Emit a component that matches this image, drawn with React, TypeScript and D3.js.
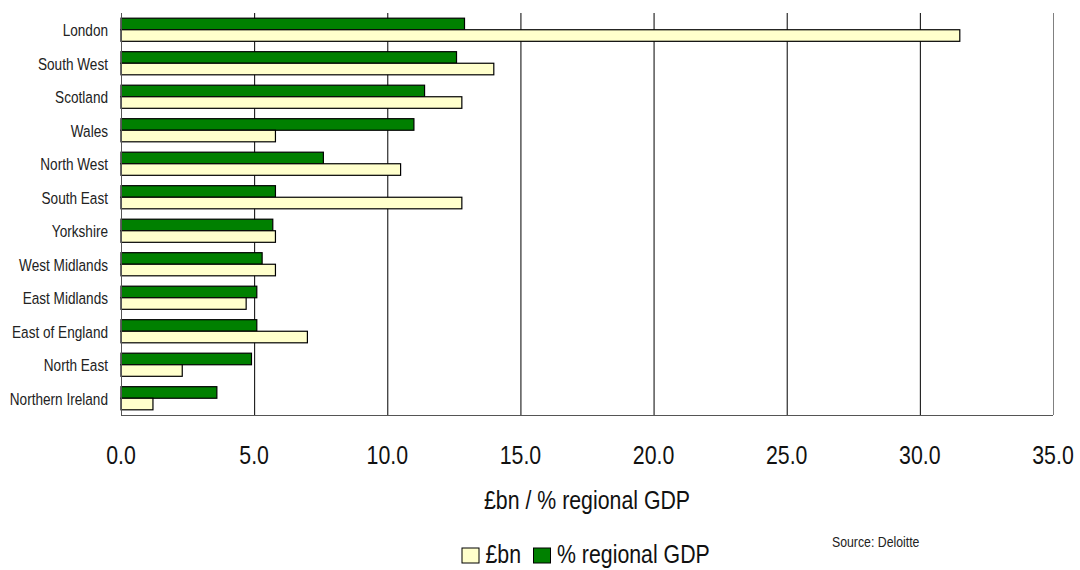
import React from "react";
import * as d3 from "d3";

const categories = [
  "London",
  "South West",
  "Scotland",
  "Wales",
  "North West",
  "South East",
  "Yorkshire",
  "West Midlands",
  "East Midlands",
  "East of England",
  "North East",
  "Northern Ireland",
];
const gdpPct = [12.9, 12.6, 11.4, 11.0, 7.6, 5.8, 5.7, 5.3, 5.1, 5.1, 4.9, 3.6];
const bn = [31.5, 14.0, 12.8, 5.8, 10.5, 12.8, 5.8, 5.8, 4.7, 7.0, 2.3, 1.2];
const ticks = [0, 5, 10, 15, 20, 25, 30, 35];
const seriesNames = ["£bn", "% regional GDP"];
const xTitle = "£bn / % regional GDP";
const source = "Source: Deloitte";

const FONT = "'Liberation Sans', Arial, sans-serif";
const GREEN = "#008000";
const CREAM = "#FFFFCC";
const SX = 0.82;

function NText({ x, y, size, anchor = "start", fill = "#111", children }: any) {
  return (
    <text transform={`translate(${x},${y}) scale(${SX},1)`} textAnchor={anchor} fontSize={size} fill={fill}>
      {children}
    </text>
  );
}

export default function App() {
  const W = 1080, H = 570;
  const left = 121, right = 1053, top = 13, bottom = 415;
  const x = d3.scaleLinear().domain([0, 35]).range([left, right]);
  const y = d3.scaleBand<string>().domain(categories).range([top, bottom]).paddingInner(0.31).paddingOuter(0.155);
  const sub = d3.scaleBand<string>().domain(["pct", "bn"]).range([0, y.bandwidth()]);

  return (
    <svg width={W} height={H} style={{ position: "absolute", left: 0, top: 0, background: "#fff" }} fontFamily={FONT}>
      {ticks.slice(1).map((t) => (
        <line key={t} x1={x(t) + 0.5} x2={x(t) + 0.5} y1={top} y2={bottom} stroke={t === 35 ? "#808080" : "#000"} strokeWidth={1} />
      ))}
      {categories.map((c, i) => (
        <g key={c}>
          <rect x={x(0)} y={(y(c) as number) + (sub("pct") as number)} width={x(gdpPct[i]) - x(0)} height={sub.bandwidth()} fill={GREEN} stroke="#000" strokeWidth={1.2} />
          <rect x={x(0)} y={(y(c) as number) + (sub("bn") as number)} width={x(bn[i]) - x(0)} height={sub.bandwidth()} fill={CREAM} stroke="#000" strokeWidth={1.2} />
          <NText x={108} y={(y(c) as number) + y.bandwidth() / 2 + 6.3} size={16.6} anchor="end" fill="#222">{c}</NText>
        </g>
      ))}
      <line x1={left + 0.5} x2={left + 0.5} y1={top} y2={bottom} stroke="#555" strokeWidth={1} />
      <line x1={left} x2={right} y1={bottom + 0.5} y2={bottom + 0.5} stroke="#555" strokeWidth={1} />
      {ticks.map((t) => (
        <NText key={t} x={x(t)} y={464} size={26} anchor="middle">{t.toFixed(1)}</NText>
      ))}
      <NText x={(left + right) / 2} y={508.5} size={26} anchor="middle">{xTitle}</NText>
      <NText x={832} y={546.5} size={15} fill="#222">{source}</NText>
      <rect x={462} y={548} width={17} height={15} fill={CREAM} stroke="#000" strokeWidth={1} />
      <NText x={485.5} y={563} size={26}>{seriesNames[0]}</NText>
      <rect x={533.5} y={548} width={17} height={15} fill={GREEN} stroke="#000" strokeWidth={1} />
      <NText x={557} y={563} size={26}>{seriesNames[1]}</NText>
    </svg>
  );
}
